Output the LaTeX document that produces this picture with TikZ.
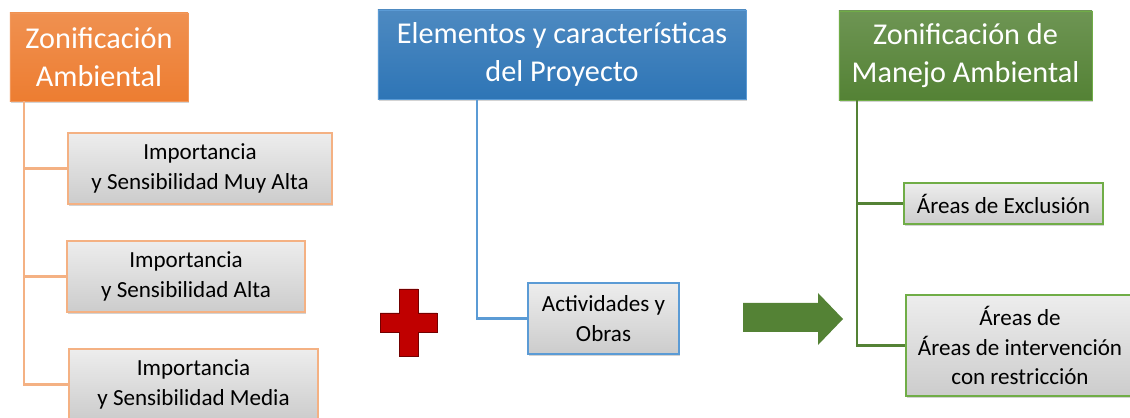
\documentclass[tikz,border=0pt]{standalone}
\usepackage{fontspec}
\setmainfont{Carlito}
\usepackage{xcolor}
\usetikzlibrary{positioning,calc,shadows}
\definecolor{orangehd}{HTML}{ED7D31}
\definecolor{orangeln}{HTML}{F4B183}
\definecolor{bluehd}{HTML}{2E75B6}
\definecolor{blueln}{HTML}{5B9BD5}
\definecolor{greenhd}{HTML}{548235}
\definecolor{greenln}{HTML}{70AD47}
\definecolor{crossred}{HTML}{C00000}

\begin{document}
\begin{tikzpicture}[
    x=0.025cm, y=-0.025cm,
    head/.style={rectangle, text=white, inner sep=2pt, align=center,
                 font=\fontsize{21.5}{27}\selectfont,
                 drop shadow={shadow xshift=1pt, shadow yshift=-1.5pt, opacity=0.35}},
    item/.style={rectangle, top color=gray!14, bottom color=gray!40, text=black,
                 inner sep=2pt, align=center, line width=1pt,
                 font=\fontsize{16.4}{20.8}\selectfont,
                 drop shadow={shadow xshift=1pt, shadow yshift=-1.5pt, opacity=0.35}},
    otree/.style={draw=orangeln, line width=1.6pt},
    btree/.style={draw=blueln, line width=1.6pt},
    gtree/.style={draw=greenhd, line width=1.6pt},
]
\useasboundingbox (0,0) rectangle (1130,418);

% headers
\node[head, top color=orangehd!85!white, bottom color=orangehd, draw=orangehd!80!white,
      minimum width=4.45cm, minimum height=2.2cm] (zonamb) at (99,57)
      {Zonificación\\Ambiental};
\node[head, top color=bluehd!85!white, bottom color=bluehd, draw=blueln,
      minimum width=9.2cm, minimum height=2.225cm] (proy) at (562,54.5)
      {Elementos y características\\del Proyecto};
\node[head, top color=greenhd!85!white, bottom color=greenhd, draw=greenln,
      minimum width=6.325cm, minimum height=2.225cm] (zonman) at (965.5,55.5)
      {Zonificación de\\Manejo Ambiental};

% items
\node[item, draw=orangeln, minimum width=6.6cm, minimum height=1.775cm] (muyalta) at (200,168.5)
      {Importancia\\y Sensibilidad Muy Alta};
\node[item, draw=orangeln, minimum width=5.95cm, minimum height=1.775cm] (alta) at (186,276.5)
      {Importancia\\y Sensibilidad Alta};
\node[item, draw=orangeln, minimum width=6.225cm, minimum height=1.775cm] (media) at (193.5,384.5)
      {Importancia\\y Sensibilidad Media};
\node[item, draw=blueln, minimum width=3.775cm, minimum height=1.775cm] (activ) at (603.5,318.5)
      {Actividades y\\Obras};
\node[item, draw=greenln, minimum width=4.975cm, minimum height=1.025cm] (excl) at (1003.5,203.5)
      {Áreas de Exclusión};
\node[item, draw=greenln, minimum width=5.7cm, minimum height=2.525cm] (restr) at (1020,345.5)
      {Áreas de\\Áreas de intervención\\con restricción};

% connectors
\draw[otree] ($(zonamb.south west)+(14,0)$) |- (muyalta.west);
\draw[otree] ($(zonamb.south west)+(14,0)$) |- (alta.west);
\draw[otree] ($(zonamb.south west)+(14,0)$) |- (media.west);
\draw[btree] ($(proy.south west)+(99,0)$) |- (activ.west);
\draw[gtree] ($(zonman.south west)+(18,0)$) |- (excl.west);
\draw[gtree] ($(zonman.south west)+(18,0)$) |- (restr.west);

% plus and arrow
\filldraw[fill=crossred, draw=crossred!60!black, line width=0.5pt]
  (399,289) -- (418,289) -- (418,313) -- (437,313) -- (437,332) -- (418,332)
  -- (418,356) -- (399,356) -- (399,332) -- (380,332) -- (380,313) -- (399,313) -- cycle;
\fill[greenhd]
  (743,303) -- (818,303) -- (818,293) -- (843,319) -- (818,345) -- (818,332) -- (743,332) -- cycle;

\end{tikzpicture}
\end{document}
